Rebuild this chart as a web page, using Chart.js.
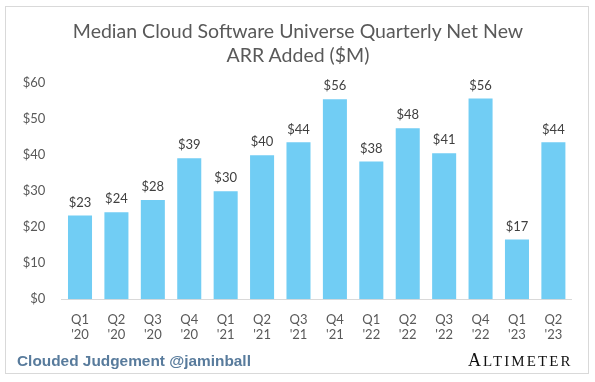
<!DOCTYPE html>
<html>
<head>
<meta charset="utf-8">
<script src="https://cdn.jsdelivr.net/npm/chart.js@4"></script>
<style>
  html, body { margin: 0; padding: 0; background: #fff; }
  #wrap { position: relative; width: 595px; height: 382px; overflow: hidden; }
  #frame { position: absolute; left: 5px; top: 6px; width: 584px; height: 368px; border: 1px solid #d9d9d9; box-sizing: border-box; }
  #title { position: absolute; left: 0; width: 596px; top: 19px; text-align: center; font-family: Lato, "Open Sans", sans-serif; font-size: 19.5px; line-height: 23.5px; color: #595959; }
  #left { position: absolute; left: 17px; top: 352px; font-family: "Liberation Sans", Arial, sans-serif; font-weight: bold; font-size: 15.4px; color: #587b9c; white-space: nowrap; }
  #right { position: absolute; left: 468px; top: 350px; font-family: "Liberation Serif", "DejaVu Serif", serif; color: #111; white-space: nowrap; letter-spacing: 2.1px; }
  #right .big { font-size: 18px; }
  #right .sm { font-size: 15px; }
  canvas { position: absolute; left: 0; top: 0; }
</style>
</head>
<body>
<div id="wrap">
  <div id="frame"></div>
  <canvas id="c" width="595" height="382"></canvas>
  <div id="title">Median Cloud Software Universe Quarterly Net New<br>ARR Added ($M)</div>
  <div id="left">Clouded Judgement @jaminball</div>
  <div id="right"><span class="big">A</span><span class="sm">LTIMETER</span></div>
</div>
<script>
const quarters = ['Q1', 'Q2', 'Q3', 'Q4', 'Q1', 'Q2', 'Q3', 'Q4', 'Q1', 'Q2', 'Q3', 'Q4', 'Q1', 'Q2'];
const years = ["'20", "'20", "'20", "'20", "'21", "'21", "'21", "'21", "'22", "'22", "'22", "'22", "'23", "'23"];
const netNewARR = [23.3, 24.2, 27.6, 39.2, 30.0, 40.0, 43.6, 55.6, 38.3, 47.5, 40.6, 55.8, 16.6, 43.6];
const yTicks = [0, 10, 20, 30, 40, 50, 60];

const labels = quarters.map((q, i) => [q, years[i]]);

const valueLabels = {
  id: 'valueLabels',
  afterDatasetsDraw(chart) {
    const ctx = chart.ctx;
    const meta = chart.getDatasetMeta(0);
    ctx.save();
    ctx.font = '13px Lato, "Open Sans", sans-serif';
    ctx.fillStyle = '#404040';
    ctx.textAlign = 'center';
    ctx.textBaseline = 'middle';
    meta.data.forEach((bar, i) => {
      const v = chart.data.datasets[0].data[i];
      ctx.fillText('$' + Math.round(v), bar.x, bar.y - 13);
    });
    ctx.restore();
  }
};

new Chart(document.getElementById('c'), {
  type: 'bar',
  data: {
    labels: labels,
    datasets: [{
      data: netNewARR,
      backgroundColor: '#71cdf4',
      borderWidth: 0,
      categoryPercentage: 1.0,
      barPercentage: 0.66
    }]
  },
  options: {
    responsive: false,
    animation: false,
    events: [],
    layout: { padding: { top: 83.3, right: 23.4, left: 0, bottom: 0 } },
    plugins: {
      legend: { display: false },
      tooltip: { enabled: false },
      title: { display: false }
    },
    scales: {
      x: {
        grid: { display: false },
        border: { display: true, color: '#d9d9d9', width: 1 },
        ticks: {
          color: '#595959',
          font: { family: 'Lato, "Open Sans", sans-serif', size: 13 },
          padding: 4.5,
          maxRotation: 0,
          autoSkip: false
        },
        afterFit(scale) { scale.height = 382 - 299.3; }
      },
      y: {
        min: yTicks[0],
        max: yTicks[yTicks.length - 1],
        grid: { display: false },
        border: { display: false },
        afterBuildTicks(scale) { scale.ticks = yTicks.map(v => ({ value: v })); },
        ticks: {
          color: '#595959',
          font: { family: 'Lato, "Open Sans", sans-serif', size: 13 },
          padding: 8.5,
          callback: v => '$' + v
        },
        afterFit(scale) { scale.width = 61.8; }
      }
    }
  },
  plugins: [valueLabels]
});
</script>
</body>
</html>
